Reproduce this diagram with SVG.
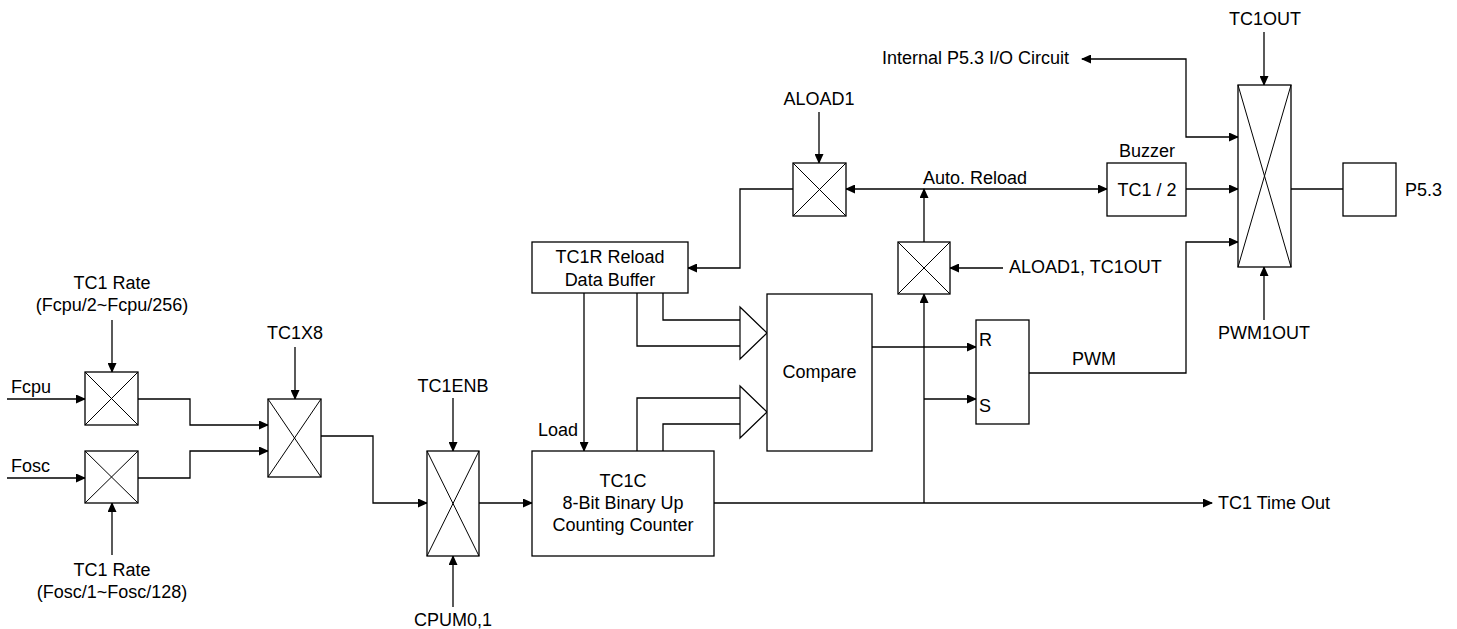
<svg xmlns="http://www.w3.org/2000/svg" width="1457" height="629" viewBox="0 0 1457 629">
<defs>
<marker id="ah" markerWidth="10" markerHeight="9" refX="9" refY="4.5" orient="auto" markerUnits="userSpaceOnUse">
<path d="M0,0 L10,4.5 L0,9 z" fill="#000"/>
</marker>
<marker id="ahs" markerWidth="10" markerHeight="9" refX="1" refY="4.5" orient="auto" markerUnits="userSpaceOnUse">
<path d="M10,0 L0,4.5 L10,9 z" fill="#000"/>
</marker>
<style>
text{font-family:"Liberation Sans",Arial,sans-serif;font-size:18px;fill:#000}
.m{text-anchor:middle}
.box{fill:#fff;stroke:#000;stroke-width:1.3}
.x{stroke:#000;stroke-width:1;fill:none}
.c{fill:none;stroke:#000;stroke-width:1.3}
.a{marker-end:url(#ah)}
.wa{fill:#fff;stroke:#000;stroke-width:1.2;stroke-linejoin:miter}
</style>
</defs>
<rect width="1457" height="629" fill="#fff"/>

<g id="connectors">
<path class="c a" d="M7,399 H85"/>
<path class="c a" d="M7,478 H85"/>
<path class="c a" d="M112,320 V372"/>
<path class="c a" d="M112,555 V503"/>
<path class="c a" d="M138,399 H190 V425 H268"/>
<path class="c a" d="M138,478 H190 V451 H268"/>
<path class="c a" d="M295,347 V399"/>
<path class="c a" d="M321,436 H373 V503 H427"/>
<path class="c a" d="M453,398 V451"/>
<path class="c a" d="M453,607 V556"/>
<path class="c a" d="M479,503 H532"/>
<path class="c a" d="M584,293 V451"/>
<path class="c a" d="M714,503 H1212"/>
<path class="c a" d="M924,503 V294"/>
<path class="c a" d="M924,399 H976"/>
<path class="c a" d="M872,347 H976"/>
<path class="c a" d="M1029,373 H1186 V242 H1238"/>
<path class="c a" d="M1003,268 H950"/>
<path class="c a" d="M924,242 V189"/>
<path class="c a" d="M846,189 H1107" marker-start="url(#ahs)"/>
<path class="c a" d="M819,112 V163"/>
<path class="c a" d="M793,189 H740 V268 H688"/>
<path class="c a" d="M1186,189 H1238"/>
<path class="c a" d="M1082,59 H1186 V137 H1238" marker-start="url(#ahs)"/>
<path class="c a" d="M1264,32 V85"/>
<path class="c a" d="M1264,320 V267"/>
<path class="c" d="M1291,189 H1343"/>
<path class="c" d="M663,293 V320 H740"/>
<path class="c" d="M637,293 V346 H740"/>
<path class="c" d="M637,451 V398 H740"/>
<path class="c" d="M663,451 V424 H740"/>
<polygon class="wa" points="740,320 740,307 767,333 740,359 740,346"/>
<polygon class="wa" points="740,398 740,386 767,412 740,438 740,424"/>
</g>

<g id="mux-fcpu">
<rect class="box" x="85" y="372" width="53" height="53"/>
<path class="x" d="M85,372 L138,425 M138,372 L85,425"/>
</g>
<g id="mux-fosc">
<rect class="box" x="85" y="451" width="53" height="52"/>
<path class="x" d="M85,451 L138,503 M138,451 L85,503"/>
</g>
<g id="mux-tc1x8">
<rect class="box" x="268" y="399" width="53" height="78"/>
<path class="x" d="M268,399 L321,477 M321,399 L268,477"/>
</g>
<g id="mux-tc1enb">
<rect class="box" x="427" y="451" width="52" height="105"/>
<path class="x" d="M427,451 L479,556 M479,451 L427,556"/>
</g>
<g id="tc1c">
<rect class="box" x="532" y="451" width="182" height="105"/>
<text class="m" x="623" y="487">TC1C</text>
<text class="m" x="623" y="509">8-Bit Binary Up</text>
<text class="m" x="623" y="531">Counting Counter</text>
</g>
<g id="tc1r">
<rect class="box" x="532" y="242" width="156" height="51"/>
<text class="m" x="610" y="263">TC1R Reload</text>
<text class="m" x="610" y="286">Data Buffer</text>
</g>
<g id="compare">
<rect class="box" x="767" y="294" width="105" height="157"/>
<text class="m" x="819.5" y="378">Compare</text>
</g>
<g id="rs">
<rect class="box" x="976" y="320" width="53" height="104"/>
<text x="979" y="346">R</text>
<text x="979" y="412">S</text>
</g>
<g id="mux-aload-out">
<rect class="box" x="898" y="242" width="52" height="52"/>
<path class="x" d="M898,242 L950,294 M950,242 L898,294"/>
</g>
<g id="mux-aload1">
<rect class="box" x="793" y="163" width="53" height="53"/>
<path class="x" d="M793,163 L846,216 M846,163 L793,216"/>
</g>
<g id="buzzer">
<rect class="box" x="1107" y="163" width="79" height="53"/>
<text class="m" x="1147" y="196">TC1 / 2</text>
<text class="m" x="1147" y="157">Buzzer</text>
</g>
<g id="mux-out">
<rect class="box" x="1238" y="85" width="53" height="182"/>
<path class="x" d="M1238,85 L1291,267 M1291,85 L1238,267"/>
</g>
<g id="p53">
<rect class="box" x="1343" y="163" width="53" height="53"/>
<text x="1405" y="196">P5.3</text>
</g>

<g id="labels">
<text class="m" x="112" y="289">TC1 Rate</text>
<text class="m" x="112" y="311">(Fcpu/2~Fcpu/256)</text>
<text x="11" y="393">Fcpu</text>
<text x="11" y="472">Fosc</text>
<text class="m" x="112" y="576">TC1 Rate</text>
<text class="m" x="112" y="598">(Fosc/1~Fosc/128)</text>
<text class="m" x="295" y="339">TC1X8</text>
<text class="m" x="453" y="392">TC1ENB</text>
<text class="m" x="453" y="626">CPUM0,1</text>
<text x="538" y="436">Load</text>
<text class="m" x="819" y="105">ALOAD1</text>
<text x="923" y="184">Auto. Reload</text>
<text x="1009" y="273">ALOAD1, TC1OUT</text>
<text x="1072" y="365">PWM</text>
<text x="882" y="64">Internal P5.3 I/O Circuit</text>
<text class="m" x="1265" y="25">TC1OUT</text>
<text class="m" x="1264" y="339">PWM1OUT</text>
<text x="1218" y="509">TC1 Time Out</text>
</g>
</svg>
